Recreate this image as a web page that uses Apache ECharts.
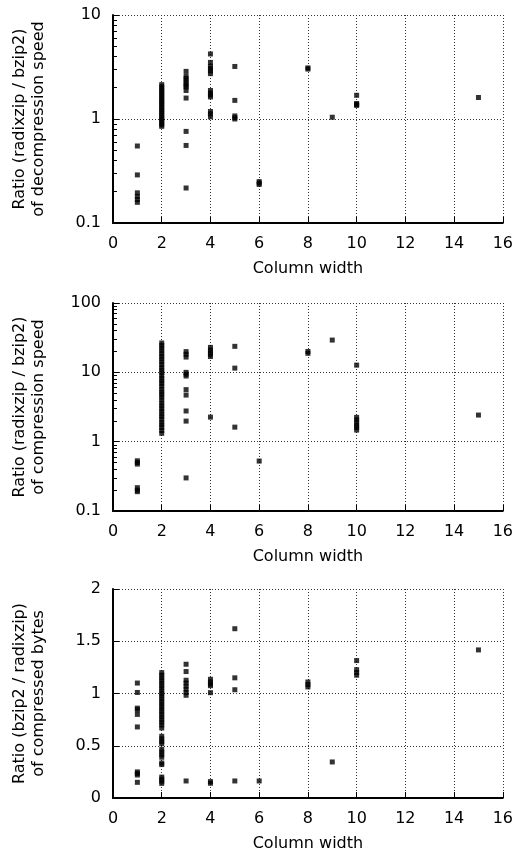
<!DOCTYPE html>
<html>
<head>
<meta charset="utf-8">
<script src="https://cdn.jsdelivr.net/npm/echarts@6/dist/echarts.min.js"></script>
<style>html,body{margin:0;padding:0;background:#fff}#c{width:516px;height:855px}</style>
</head>
<body>
<div id="c"></div>
<script>
// Column widths that occur (x values)
const widths = [1, 2, 3, 4, 5, 6, 8, 9, 10, 15];

// Panel 1: decompression speed ratio (radixzip / bzip2), one list per width
const decompRatio = [
  [0.55, 0.29, 0.195, 0.18, 0.168, 0.158],
  [0.85, 0.88, 0.92, 0.96, 1.0, 1.04, 1.09, 1.14, 1.19, 1.24, 1.3, 1.36, 1.42, 1.48, 1.55, 1.62, 1.7, 1.78, 1.86, 1.95, 2.04, 2.14],
  [2.87, 2.57, 2.45, 2.33, 2.2, 2.1, 2.03, 1.88, 1.59, 0.76, 0.557, 0.217],
  [4.22, 3.5, 3.2, 3.05, 2.9, 2.73, 1.88, 1.78, 1.7, 1.63, 1.18, 1.12, 1.05],
  [3.2, 1.51, 1.07, 1.03, 1.0],
  [0.25, 0.242, 0.235],
  [3.1, 3.02],
  [1.04],
  [1.69, 1.41, 1.38, 1.35],
  [1.61]
];

// Panel 2: compression speed ratio (radixzip / bzip2)
const compRatio = [
  [0.53, 0.5, 0.475, 0.217, 0.2, 0.19],
  [1.32, 1.45, 1.6, 1.75, 1.9, 2.1, 2.3, 2.5, 2.75, 3.0, 3.3, 3.6, 4.0, 4.4, 4.8, 5.2, 5.7, 6.3, 6.9, 7.5, 8.2, 9.0, 9.9, 10.8, 11.8, 13, 14.2, 15.6, 17, 18.6, 20.4, 22.3, 24.4, 26.5],
  [19.9, 18.2, 16.6, 10, 9.4, 8.85, 5.63, 4.7, 2.77, 1.98, 0.3],
  [22.9, 21, 19.5, 18.2, 16.9, 2.26],
  [23.7, 11.5, 1.62],
  [0.525],
  [20, 18.8],
  [29.2],
  [12.7, 2.24, 2.05, 1.88, 1.72, 1.6, 1.47],
  [2.42]
];

// Panel 3: compressed bytes ratio (bzip2 / radixzip)
const bytesRatio = [
  [1.10, 1.01, 0.86, 0.845, 0.80, 0.68, 0.25, 0.235, 0.22, 0.15],
  [1.2, 1.175, 1.15, 1.125, 1.1, 1.075, 1.05, 1.025, 1.0, 0.975, 0.95, 0.925, 0.9, 0.875, 0.85, 0.825, 0.8, 0.775, 0.75, 0.725, 0.7, 0.67,
   0.59, 0.565, 0.54, 0.52, 0.465, 0.44, 0.415, 0.39, 0.335, 0.32, 0.2, 0.18, 0.16, 0.14],
  [1.28, 1.21, 1.127, 1.1, 1.07, 1.04, 1.01, 0.983, 0.163],
  [1.136, 1.11, 1.09, 1.075, 1.008, 0.157, 0.141],
  [1.62, 1.15, 1.036, 0.163],
  [0.163],
  [1.11, 1.085, 1.063],
  [0.345],
  [1.315, 1.228, 1.2, 1.175],
  [1.417]
];

const yTitles = [
  'Ratio (radixzip / bzip2)\nof decompression speed',
  'Ratio (radixzip / bzip2)\nof compression speed',
  'Ratio (bzip2 / radixzip)\nof compressed bytes'
];
const xTitle = 'Column width';

const FONT = 'DejaVu Sans, Liberation Sans, Arial, sans-serif';
const FS = 16;
const toPoints = lists => {
  const out = [];
  lists.forEach((vals, i) => vals.forEach(v => out.push([widths[i], v])));
  return out;
};

const chart = echarts.init(document.getElementById('c'), null, {renderer: 'canvas'});
const grids = [
  {left: 113, top: 15, width: 390, height: 208},
  {left: 113, top: 303, width: 390, height: 208},
  {left: 113, top: 589, width: 390, height: 209}
];
const gridLine = {show: true, lineStyle: {color: '#333', width: 1, type: [1, 2]}};
const axisLineS = {show: true, onZero: false, lineStyle: {color: '#000', width: 2}};
const labelS = {color: '#000', fontSize: FS, fontFamily: FONT};

const xAxes = [0, 1, 2].map(i => ({
  type: 'value', gridIndex: i, min: 0, max: 16, interval: 2,
  axisLine: axisLineS,
  axisTick: {show: true, inside: true, length: 6, lineStyle: {color: '#000', width: 1}},
  axisLabel: Object.assign({margin: 13}, labelS),
  splitLine: gridLine,
  name: xTitle, nameLocation: 'middle', nameGap: 38,
  nameTextStyle: {color: '#000', fontSize: FS, fontFamily: FONT}
}));

const yBase = i => ({
  gridIndex: i,
  axisLine: axisLineS,
  axisTick: {show: true, inside: true, length: 6, lineStyle: {color: '#000', width: 1}},
  axisLabel: Object.assign({margin: 12}, labelS),
  splitLine: gridLine,
  name: yTitles[i], nameLocation: 'middle', nameGap: 65, nameRotate: 90,
  nameTextStyle: {color: '#000', fontSize: FS, fontFamily: FONT, lineHeight: 19}
});
const minorS = {show: true, splitNumber: 9, length: 4, lineStyle: {color: '#000', width: 1}};
const yAxes = [
  Object.assign(yBase(0), {type: 'log', logBase: 10, min: 0.1, max: 10, interval: 1, minorTick: minorS}),
  Object.assign(yBase(1), {type: 'log', logBase: 10, min: 0.1, max: 100, interval: 1, minorTick: minorS}),
  Object.assign(yBase(2), {type: 'value', min: 0, max: 2, interval: 0.5})
];

const mk = (i, d) => ({
  type: 'scatter', xAxisIndex: i, yAxisIndex: i, data: d,
  symbol: 'rect', symbolSize: 5,
  itemStyle: {color: '#000'}, emphasis: {disabled: true}, silent: true
});

chart.setOption({
  animation: false,
  backgroundColor: '#fff',
  grid: grids,
  xAxis: xAxes,
  yAxis: yAxes,
  series: [mk(0, toPoints(decompRatio)), mk(1, toPoints(compRatio)), mk(2, toPoints(bytesRatio))]
});
</script>
</body>
</html>
